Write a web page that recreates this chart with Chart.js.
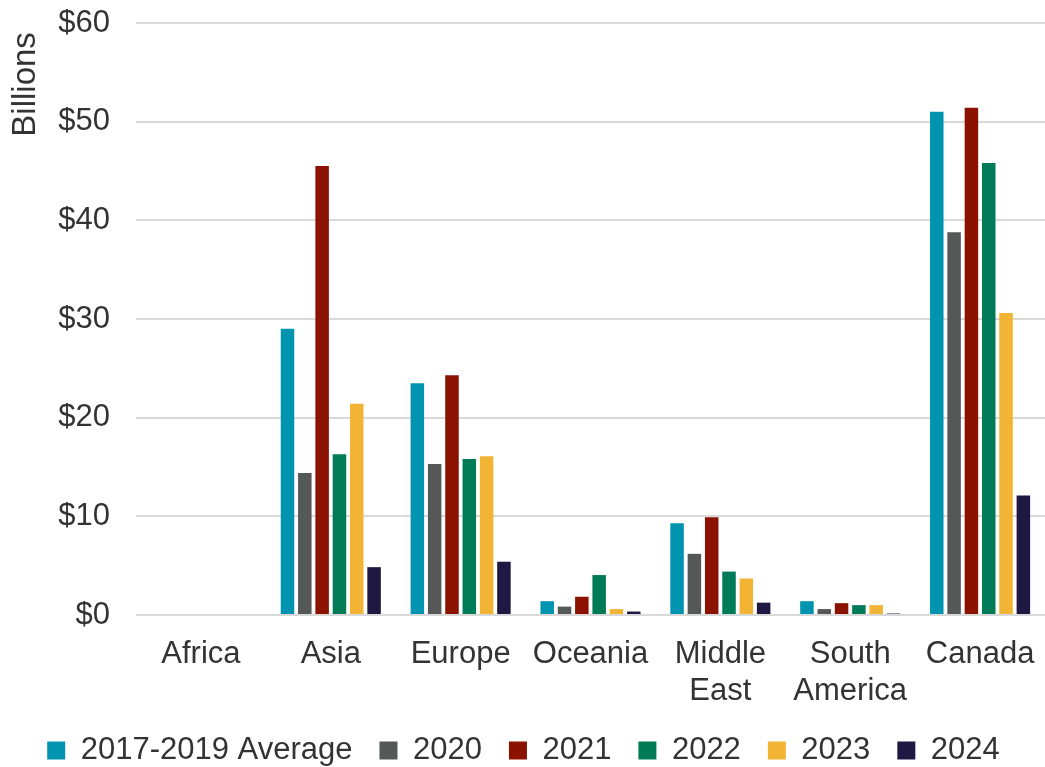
<!DOCTYPE html>
<html>
<head>
<meta charset="utf-8">
<script src="https://cdn.jsdelivr.net/npm/chart.js@4/dist/chart.umd.min.js"></script>
<style>
  html, body { margin: 0; padding: 0; background: #ffffff; }
  #wrap { width: 1045px; height: 767px; position: relative; }
</style>
</head>
<body>
<div id="wrap"><canvas id="chart"></canvas></div>
<script>
// Regions (multi-line labels are arrays)
const regions = ['Africa', 'Asia', 'Europe', 'Oceania', ['Middle', 'East'], ['South', 'America'], 'Canada'];

// Values in billions of dollars, per region
const avg2017to2019 = [0, 29.0, 23.5, 1.4, 9.3, 1.4, 51.0];
const y2020 = [0, 14.4, 15.3, 0.85, 6.2, 0.6, 38.8];
const y2021 = [0, 45.5, 24.3, 1.85, 9.9, 1.2, 51.4];
const y2022 = [0, 16.3, 15.8, 4.05, 4.4, 1.0, 45.8];
const y2023 = [0, 21.4, 16.1, 0.6, 3.7, 1.0, 30.6];
const y2024 = [0, 4.85, 5.4, 0.35, 1.25, 0.15, 12.1];

const seriesNames = ['2017-2019 Average', '2020', '2021', '2022', '2023', '2024'];
const seriesValues = [avg2017to2019, y2020, y2021, y2022, y2023, y2024];
const seriesColors = ['#0094b0', '#545857', '#8c1200', '#007b57', '#f1b434', '#1e1842'];

// Axis ticks
const yTicks = [0, 10, 20, 30, 40, 50, 60];

const textColor = '#333333';
const fontFamily = '"Liberation Sans", Arial, sans-serif';

const datasets = seriesNames.map((name, i) => ({
  label: name,
  data: seriesValues[i],
  backgroundColor: seriesColors[i],
  borderWidth: 0,
  categoryPercentage: 0.8,
  barPercentage: 0.78
}));

const chart = new Chart(document.getElementById('chart'), {
  type: 'bar',
  data: { labels: regions, datasets },
  options: {
    responsive: true,
    maintainAspectRatio: false,
    animation: false,
    layout: { padding: { top: 23, right: -2, left: 0, bottom: 0 } },
    plugins: {
      tooltip: { enabled: false },
      legend: {
        position: 'bottom',
        labels: {
          color: textColor,
          font: { family: fontFamily, size: 31 },
          boxWidth: 18,
          boxHeight: 18,
          padding: 27
        }
      }
    },
    scales: {
      x: {
        grid: { display: false, drawTicks: false },
        border: { display: false },
        ticks: {
          color: textColor,
          font: { family: fontFamily, size: 31, lineHeight: 1.2 },
          padding: 21,
          maxRotation: 0,
          autoSkip: false
        },
        afterFit: (axis) => {
          axis.paddingLeft = 0;
          axis.paddingRight = 0;
          axis.height = 93;
        }
      },
      y: {
        min: yTicks[0],
        max: yTicks[yTicks.length - 1],
        afterBuildTicks: (axis) => { axis.ticks = yTicks.map(v => ({ value: v })); },
        grid: { color: '#d9d9d9', lineWidth: 2, drawTicks: false },
        border: { display: false },
        ticks: {
          color: textColor,
          font: { family: fontFamily, size: 31 },
          padding: 26,
          callback: (v) => '$' + v
        },
        title: {
          display: true,
          text: 'Billions ',
          align: 'end',
          color: textColor,
          font: { family: fontFamily, size: 33 },
          padding: { top: 6, bottom: 0 }
        },
        afterFit: (axis) => {
          axis.width = 136;
          axis.paddingTop = 0;
          axis.paddingBottom = 0;
        }
      }
    }
  }
});

// Compact legend block: keep the spacing between items, less space above the row
const legend = chart.legend;
const baseFit = legend.fit.bind(legend);
legend.fit = function () {
  baseFit();
  this.height = 59;
};
chart.update();
</script>
</body>
</html>
